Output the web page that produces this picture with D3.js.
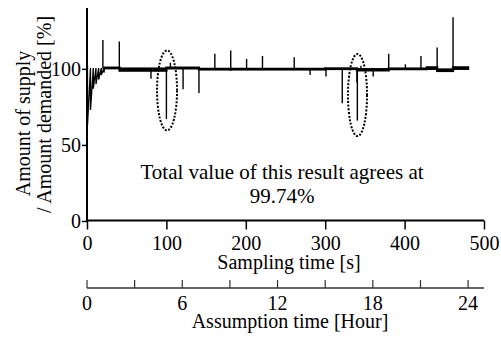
<!DOCTYPE html>
<html><head><meta charset="utf-8">
<script src="https://cdn.jsdelivr.net/npm/d3@7"></script>
<style>
body{margin:0;background:#fff}
svg{display:block}
</style>
</head><body><svg id="c" width="501" height="338"></svg>
<script>
// ---- data ----
const xTicks = [0, 100, 200, 300, 400, 500];
const yTicks = [0, 50, 100];
const hourTicks = [0, 3, 6, 9, 12, 15, 18, 21, 24];
const hourLabels = [0, 6, 12, 18, 24];

// start-up transient: drop times [s] and minimum values [%]
const dropTimes = [0.6, 4.4, 7.9, 11.3, 14.7, 18.0, 21.4];
const dropValues = [63, 73, 87, 90, 93, 96, 97.5];

// steady segments: start, end [s], oscillation low / high [%]
const segStart = [22, 41, 100, 141, 181, 300, 340, 380, 428, 441, 461];
const segEnd   = [41, 100, 141, 181, 300, 340, 380, 428, 441, 461, 480];
const segLow   = [100.4, 98.8, 100.3, 99.6, 99.6, 99.9, 99.0, 99.8, 100.0, 98.6, 100.0];
const segHigh  = [100.8, 100.2, 100.8, 100.0, 100.0, 100.3, 99.8, 100.2, 101.0, 99.6, 101.0];

// spikes: time [s] and extreme value [%]
const spikeTimes  = [20, 40.7, 80.6, 100, 105, 121, 141, 161, 181, 201, 221, 261, 281, 301, 321.5, 340, 340.5, 345, 360.5, 380, 401, 420.6, 441, 461];
const spikeValues = [119, 118, 93.5, 67, 104, 86.6, 84.2, 110, 112, 106.5, 108.5, 107.7, 96, 95, 77.4, 91, 66, 102, 95, 110, 103, 108.5, 114, 134];

// highlighted regions (dotted ellipses): centre time/value, half-extent
const ringTimes = [100.8, 340.7];
const ringValues = [85.8, 82.8];
const ringHalfTimes = [12.6, 12.0];
const ringHalfValues = [26.3, 27.0];

const noteLines = ["Total value of this result agrees at", "99.74%"];
const yTitle = ["Amount of supply", "/ Amount demanded  [%]"];
const xTitle = "Sampling time [s]";
const hourTitle = "Assumption time [Hour]";

// ---- drawing ----
const FONT = '"Liberation Serif", "Times New Roman", serif';
const svg = d3.select("#c");
const x = d3.scaleLinear().domain([0, 500]).range([87, 484]);
const y = d3.scaleLinear().domain([0, 140]).range([221, 8]);
const h = d3.scaleLinear().domain([0, 25]).range([87, 484]);

// y axis
const gy = svg.append("g").attr("transform", "translate(87,0)")
  .call(d3.axisLeft(y).tickValues(yTicks).tickSize(5).tickPadding(1).tickSizeOuter(0));
gy.attr("font-family", FONT).attr("font-size", 20);
gy.select(".domain").attr("stroke", "#000").attr("stroke-width", 2).attr("d", `M0,${y(0)+1}V${y(140)}`);
gy.selectAll(".tick line").attr("stroke", "#000").attr("stroke-width", 1.5);
gy.selectAll(".tick text").attr("font-family", FONT).attr("font-size", 20).attr("dy", "0.34em").attr("fill", "#000");

// x axis
const gx = svg.append("g").attr("transform", `translate(0,${y(0) - 0.5})`)
  .call(d3.axisBottom(x).tickValues(xTicks).tickSize(9).tickSizeOuter(0));
gx.attr("font-family", FONT).attr("font-size", 20);
gx.select(".domain").attr("stroke", "#000").attr("stroke-width", 2).attr("d", `M${x(0)-1},0H${x(500)}`);
gx.selectAll(".tick line").attr("stroke", "#000").attr("stroke-width", 1.5);
gx.selectAll(".tick text").attr("font-family", FONT).attr("font-size", 20).attr("y", 29.5).attr("dy", 0).attr("fill", "#000");

// hour axis
const gh = svg.append("g").attr("transform", "translate(0,288)");
gh.append("line").attr("x1", h(0)).attr("x2", h(25)).attr("y1", 0).attr("y2", 0)
  .attr("stroke", "#333").attr("stroke-width", 1.5);
gh.selectAll("line.t").data(hourTicks).join("line").attr("class", "t")
  .attr("x1", d => h(d)).attr("x2", d => h(d)).attr("y1", 0).attr("y2", -8)
  .attr("stroke", "#333").attr("stroke-width", 1.2);
gh.selectAll("text").data(hourLabels).join("text")
  .attr("x", d => h(d)).attr("y", 22).attr("text-anchor", "middle")
  .attr("font-family", FONT).attr("font-size", 20).text(d => d);

// titles
svg.append("text").attr("x", 289).attr("y", 269).attr("text-anchor", "middle")
  .attr("font-family", FONT).attr("font-size", 20).text(xTitle);
svg.append("text").attr("x", 290).attr("y", 328).attr("text-anchor", "middle")
  .attr("font-family", FONT).attr("font-size", 20).text(hourTitle);
const yCenters = [123.5, 114.5];
const yBase = [30, 50.5];
yTitle.forEach((t, i) => {
  svg.append("text").attr("transform", `translate(${yBase[i]},${yCenters[i]}) rotate(-90)`)
    .attr("text-anchor", "middle").attr("font-family", FONT).attr("font-size", 20).text(t);
});

// note
const noteY = [179, 203];
noteLines.forEach((t, i) => {
  svg.append("text").attr("x", 282).attr("y", noteY[i]).attr("text-anchor", "middle")
    .attr("font-family", FONT).attr("font-size", 21).text(t);
});

// data: transient
const plot = svg.append("g");
let tp = [[0, 0], [0, 100]];
dropTimes.forEach((t, i) => {
  const next = i < dropTimes.length - 1 ? dropTimes[i + 1] : segStart[0];
  tp.push([t, 100.5], [t, dropValues[i]], [next, 100.5]);
});
plot.append("path").attr("d", d3.line().x(d => x(d[0])).y(d => y(d[1]))(tp))
  .attr("fill", "none").attr("stroke", "#000").attr("stroke-width", 1.3);

// steady segments
plot.selectAll("rect.seg").data(segStart).join("rect").attr("class", "seg")
  .attr("x", (d, i) => x(segStart[i]))
  .attr("width", (d, i) => x(segEnd[i]) - x(segStart[i]))
  .attr("y", (d, i) => y(segHigh[i]))
  .attr("height", (d, i) => y(segLow[i]) - y(segHigh[i]))
  .attr("fill", "#000").attr("stroke", "#000").attr("stroke-width", 2.2);

function levelAt(t) {
  for (let i = 0; i < segStart.length; i++) {
    if (t >= segStart[i] && t <= segEnd[i]) return (segLow[i] + segHigh[i]) / 2;
  }
  return 100;
}
plot.selectAll("line.sp").data(spikeTimes).join("line").attr("class", "sp")
  .attr("x1", (d, i) => x(spikeTimes[i])).attr("x2", (d, i) => x(spikeTimes[i]))
  .attr("y1", (d, i) => y(levelAt(spikeTimes[i])))
  .attr("y2", (d, i) => y(spikeValues[i]))
  .attr("stroke", "#000").attr("stroke-width", 1.4);

// dotted ellipses
svg.selectAll("ellipse").data(ringTimes).join("ellipse")
  .attr("cx", (d, i) => x(ringTimes[i]))
  .attr("cy", (d, i) => y(ringValues[i]))
  .attr("rx", (d, i) => x(ringTimes[i] + ringHalfTimes[i]) - x(ringTimes[i]))
  .attr("ry", (d, i) => y(ringValues[i] - ringHalfValues[i]) - y(ringValues[i]))
  .attr("fill", "none").attr("stroke", "#000").attr("stroke-width", 2)
  .attr("stroke-dasharray", "2,1.6");
</script></body></html>
